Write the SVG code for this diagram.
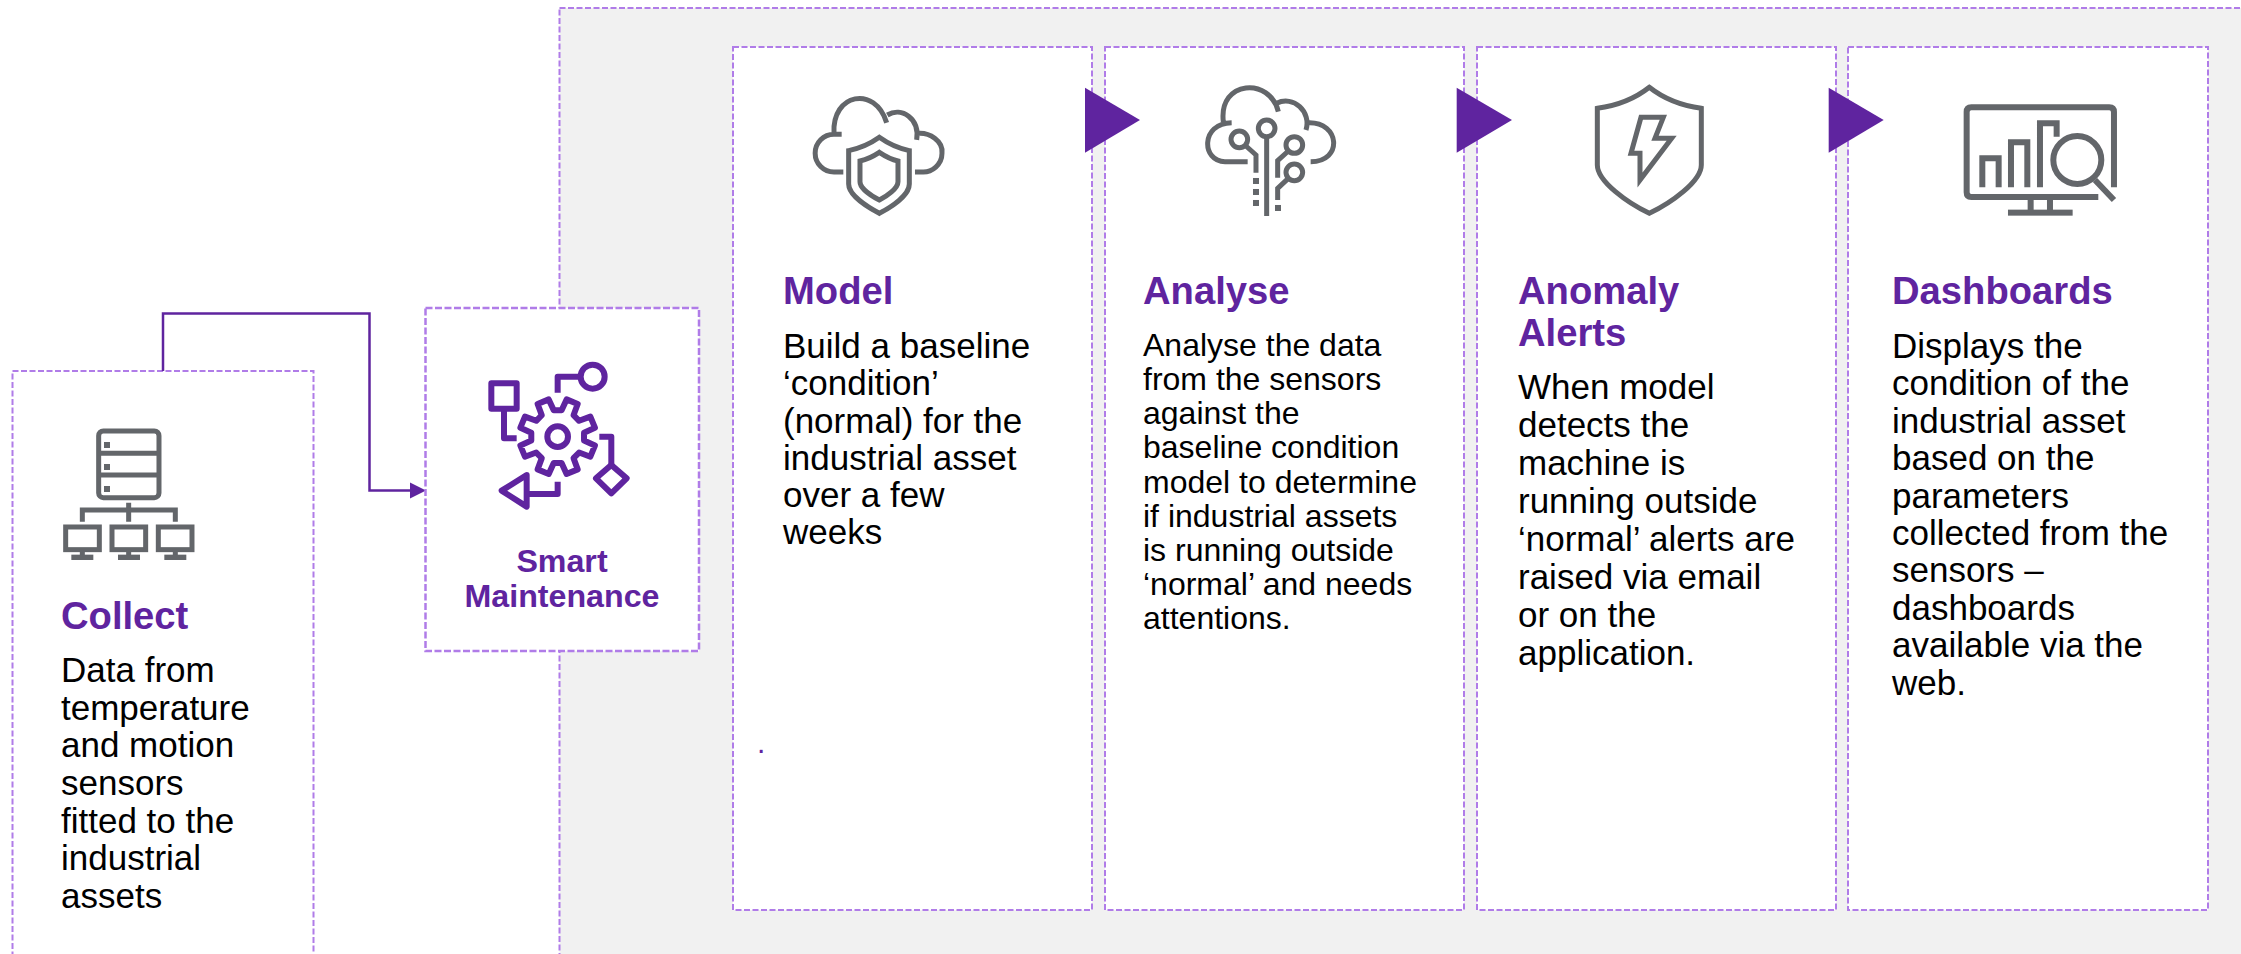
<svg xmlns="http://www.w3.org/2000/svg" width="2241" height="954" viewBox="0 0 2241 954">
<style>
text{font-family:"Liberation Sans",Arial,sans-serif}
.box{fill:#fff;stroke:#B07CE8;stroke-width:2;stroke-dasharray:6 2.5}
.t{font-size:38.2px;font-weight:700;fill:#5F249F}
.b{font-size:35px;fill:#000}
.s{font-size:32px;fill:#000}
.ic{fill:none;stroke:#63666A;stroke-width:15}
.sq{fill:#63666A}
.go{fill:#5F249F}
.pi{fill:none;stroke:#5F249F;stroke-width:18;stroke-linejoin:round}
</style>
<rect width="2241" height="954" fill="#fff"/>
<rect id="panel" x="559.5" y="8" width="1700" height="960" fill="#F1F1F1" stroke="#B07CE8" stroke-width="2" stroke-dasharray="6 2.5"/>
<g id="collect">
<rect class="box" x="12.5" y="371" width="301" height="600"/>
<g transform="translate(50 410) scale(.3333)">
<rect class="ic" x="146" y="63" width="181" height="200" rx="14"/>
<path class="ic" d="M146 130H327M146 195H327M97 335V300H376V335M236 278V335"/>
<rect class="sq" x="162" y="96" width="18" height="18"/><rect class="sq" x="162" y="162" width="18" height="18"/><rect class="sq" x="162" y="228" width="18" height="18"/>
<rect class="ic" x="47" y="351" width="101" height="68"/><rect class="ic" x="186" y="351" width="101" height="68"/><rect class="ic" x="325" y="351" width="101" height="68"/>
<path class="ic" d="M97 419V440M236 419V440M376 419V440"/>
<rect class="sq" x="64" y="434" width="66" height="16"/><rect class="sq" x="204" y="434" width="66" height="16"/><rect class="sq" x="343" y="434" width="66" height="16"/>
</g>
<text class="t" x="61" y="629">Collect</text>
<text class="b" x="61" y="682">Data from</text>
<text class="b" x="61" y="720">temperature</text>
<text class="b" x="61" y="757">and motion</text>
<text class="b" x="61" y="795">sensors</text>
<text class="b" x="61" y="833">fitted to the</text>
<text class="b" x="61" y="870">industrial</text>
<text class="b" x="61" y="908">assets</text>
</g>
<g id="connectors">
<path d="M163 371V313.500H369.500V490.500H411" fill="none" stroke="#5F249F" stroke-width="2.500"/>
<path d="M410 482.500L426 490.500L410 498.500Z" fill="#5F249F"/>
</g>
<g id="smart-maintenance">
<rect class="box" x="425.500" y="308" width="273.500" height="343" style="stroke-width:2.500;stroke-dasharray:7 2.500"/>
<g transform="translate(470 350) scale(.3333)">
<path class="pi" d="M263 128V80H328M102 180V265H140M388 260H424V345M263 395V432H170"/>
<rect class="pi" x="64" y="100" width="76" height="76"/>
<circle class="pi" cx="368" cy="80" r="36"/>
<path class="pi" d="M424 345L470 385L424 430L378 385Z"/>
<path class="pi" d="M170 375L95 422L170 470Z"/>
<g transform="translate(263 260)">
<path class="pi" d="M79.100 11.800L111.800 26.800L98.100 60.100L64.300 47.600L47.600 64.300L60.100 98.100L26.800 111.800L11.800 79.100L-11.800 79.100L-26.800 111.800L-60.100 98.100L-47.600 64.300L-64.300 47.600L-98.100 60.100L-111.800 26.800L-79.100 11.800L-79.100 -11.800L-111.800 -26.800L-98.100 -60.100L-64.300 -47.600L-47.600 -64.300L-60.100 -98.100L-26.800 -111.800L-11.800 -79.100L11.800 -79.100L26.800 -111.800L60.100 -98.100L47.600 -64.300L64.300 -47.600L98.100 -60.100L111.800 -26.800L79.100 -11.800Z"/>
<circle class="pi" r="31"/>
</g>
</g>
<text x="562" y="572" text-anchor="middle" style="font-size:32.2px;font-weight:700;fill:#5F249F">Smart</text>
<text x="562" y="607" text-anchor="middle" style="font-size:32.2px;font-weight:700;fill:#5F249F">Maintenance</text>
</g>
<g id="model">
<rect class="box" x="733" y="47" width="359" height="863"/>
<g transform="translate(760 40) scale(.3333)">
<path class="ic" d="M250 396H222A56 56 0 0 1 222 283L245 283M222 280C215 160 345 135 380 248M382 225C425 200 480 235 470 300M468 281C510 275 550 305 546 340C546 375 515 396 490 396H465"/>
<path class="ic" d="M358 292C330 312 300 325 266 332V432C266 465 320 500 358 520C396 500 448 465 448 432V332C414 325 386 312 358 292Z"/>
<path class="ic" d="M358 337C340 349 322 358 300 363V425C300 445 335 468 358 480C381 468 414 445 414 425V363C392 358 376 349 358 337Z"/>
</g>
<text class="t" x="783" y="304">Model</text>
<text class="b" x="783" y="358">Build a baseline</text>
<text class="b" x="783" y="395">‘condition’</text>
<text class="b" x="783" y="433">(normal) for the</text>
<text class="b" x="783" y="470">industrial asset</text>
<text class="b" x="783" y="507">over a few</text>
<text class="b" x="783" y="544">weeks</text>
<text x="757" y="752.500" style="font-size:30px;fill:#5F249F">.</text>
</g>
<g id="analyse">
<rect class="box" x="1105" y="47" width="359" height="863"/>
<g transform="translate(1180 40) scale(.3333)">
<path class="ic" d="M203 365H135C65 365 60 250 155 248M130 245C115 120 270 110 295 215M290 190C340 165 395 215 378 270M385 248C480 245 490 365 392 365"/>
<circle class="ic" cx="260" cy="265" r="25"/><circle class="ic" cx="178" cy="298" r="25"/><circle class="ic" cx="343" cy="315" r="25"/><circle class="ic" cx="343" cy="397" r="25"/>
<path class="ic" d="M260 290V528M198 318L228 345V398M325 333L293 362V413M325 415L293 445V480"/>
<rect class="sq" x="219" y="414" width="18" height="18"/><rect class="sq" x="219" y="447" width="18" height="18"/><rect class="sq" x="219" y="480" width="18" height="18"/><rect class="sq" x="285" y="495" width="18" height="18"/>
</g>
<text class="t" x="1143" y="304">Analyse</text>
<text class="s" x="1143" y="356">Analyse the data</text>
<text class="s" x="1143" y="390">from the sensors</text>
<text class="s" x="1143" y="424">against the</text>
<text class="s" x="1143" y="458">baseline condition</text>
<text class="s" x="1143" y="493">model to determine</text>
<text class="s" x="1143" y="527">if industrial assets</text>
<text class="s" x="1143" y="561">is running outside</text>
<text class="s" x="1143" y="595">‘normal’ and needs</text>
<text class="s" x="1143" y="629">attentions.</text>
</g>
<g id="anomaly-alerts">
<rect class="box" x="1477" y="47" width="359" height="863"/>
<g transform="translate(1570 70) scale(.3333)">
<path class="ic" d="M238 52C190 90 135 108 82 115V285C82 335 175 400 238 430C301 400 394 335 394 285V115C341 108 286 90 238 52Z"/>
<path class="ic" d="M213 142H280L255 205H305L210 330V250H183Z"/>
</g>
<text class="t" x="1518" y="304">Anomaly</text>
<text class="t" x="1518" y="346">Alerts</text>
<text class="b" x="1518" y="399">When model</text>
<text class="b" x="1518" y="437">detects the</text>
<text class="b" x="1518" y="475">machine is</text>
<text class="b" x="1518" y="513">running outside</text>
<text class="b" x="1518" y="551">‘normal’ alerts are</text>
<text class="b" x="1518" y="589">raised via email</text>
<text class="b" x="1518" y="627">or on the</text>
<text class="b" x="1518" y="665">application.</text>
</g>
<g id="dashboards">
<rect class="box" x="1848" y="47" width="360" height="863"/>
<g transform="translate(1830 40) scale(.3333)">
<path class="ic" style="stroke-width:18" d="M805 471H424Q410 471 410 457V216Q410 202 424 202H838Q852 202 852 216V442M602 471V518M660 471V518"/>
<rect class="sq" x="534" y="509" width="194" height="18"/>
<path class="ic" style="stroke-width:18" d="M457 442V355H506V442M543 442V307H592V442M630 442V250H680V290"/>
<circle class="ic" style="stroke-width:18" cx="742" cy="360" r="72"/>
<path class="ic" style="stroke-width:18" d="M795 420L852 480"/>
</g>
<text class="t" x="1892" y="304">Dashboards</text>
<text class="b" x="1892" y="358">Displays the</text>
<text class="b" x="1892" y="395">condition of the</text>
<text class="b" x="1892" y="433">industrial asset</text>
<text class="b" x="1892" y="470">based on the</text>
<text class="b" x="1892" y="508">parameters</text>
<text class="b" x="1892" y="545">collected from the</text>
<text class="b" x="1892" y="582">sensors –</text>
<text class="b" x="1892" y="620">dashboards</text>
<text class="b" x="1892" y="657">available via the</text>
<text class="b" x="1892" y="695">web.</text>
</g>
<g id="arrows" fill="#5F249F">
<path d="M1085 87.700L1140 120L1085 152.700Z"/>
<path d="M1456.700 87.700L1512 120L1456.700 152.700Z"/>
<path d="M1828.700 87.700L1883.700 120L1828.700 152.700Z"/>
</g>
</svg>
